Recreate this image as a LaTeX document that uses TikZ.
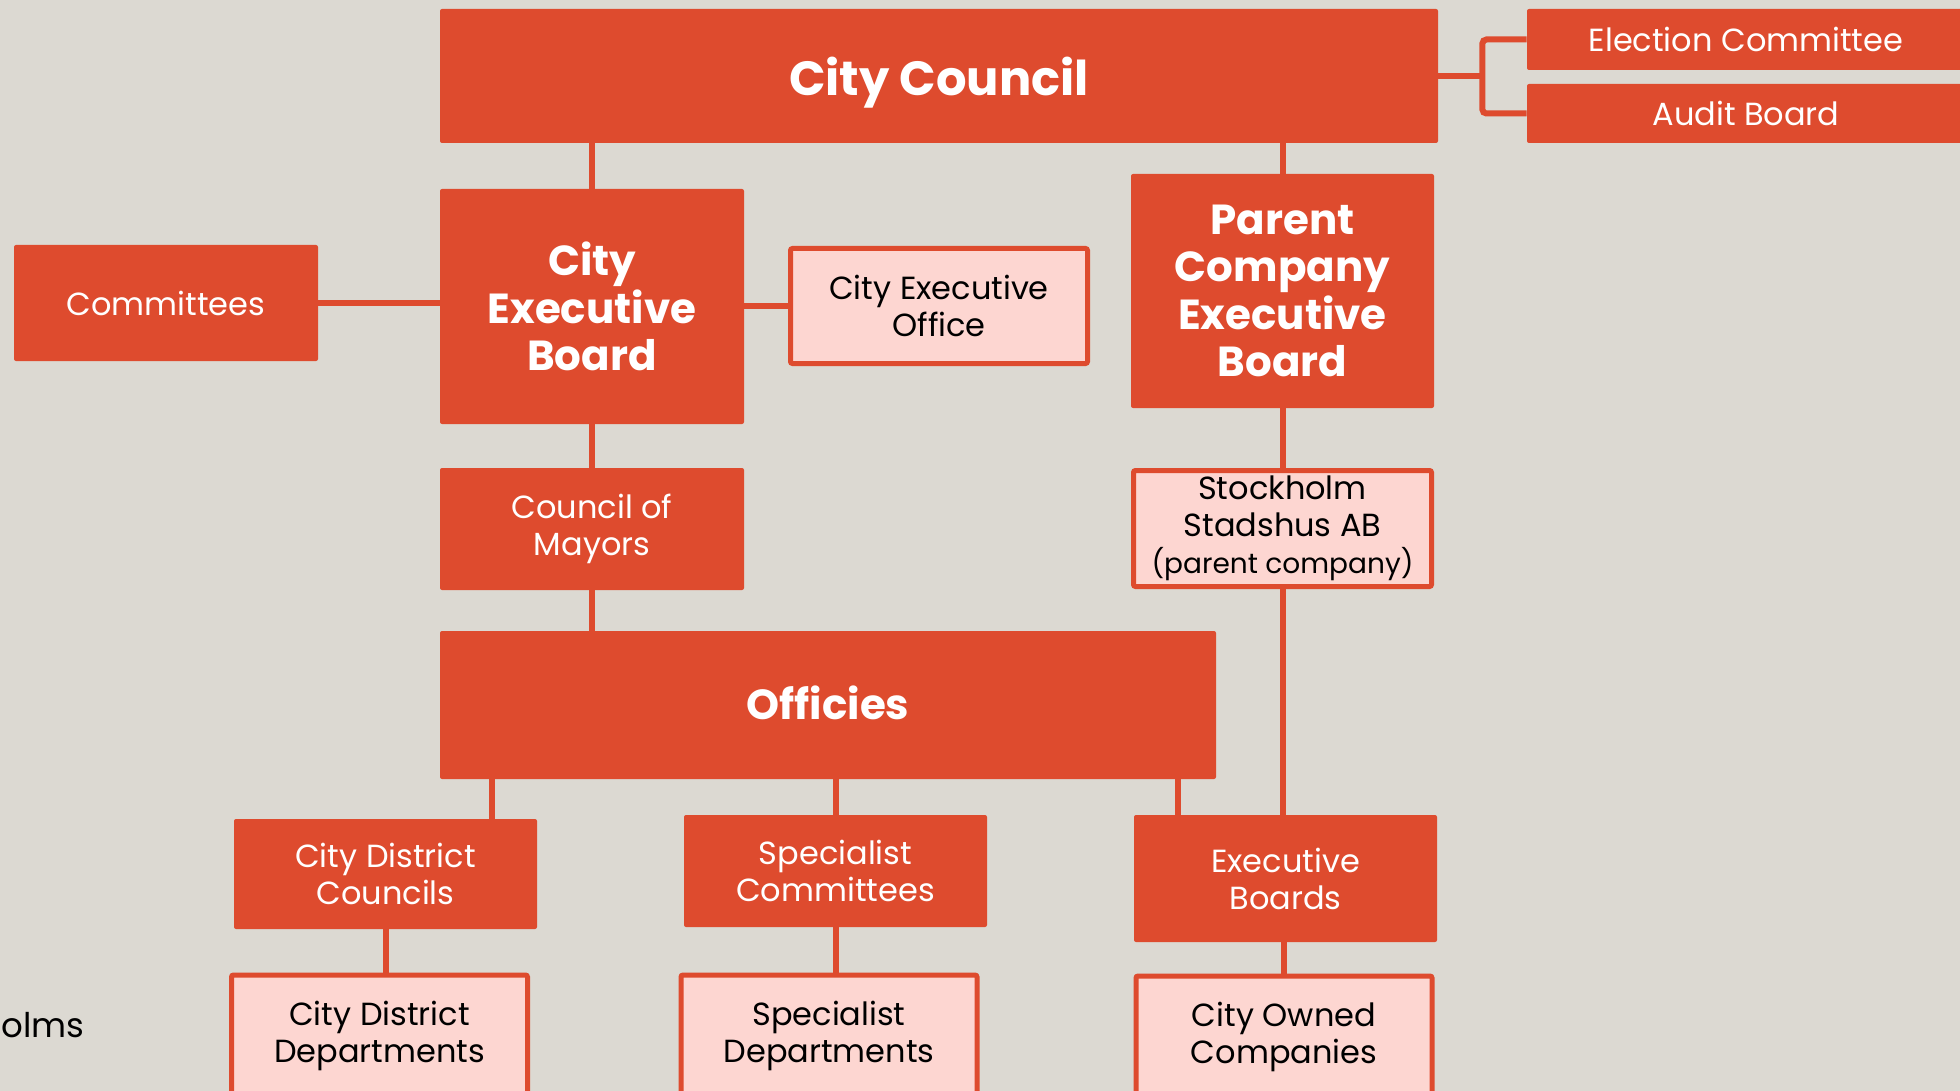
\documentclass[tikz,border=0pt]{standalone}
\usepackage{fontspec}
\setmainfont{Poppins}
\usetikzlibrary{calc}

\definecolor{bgcol}{RGB}{220,217,210}
\definecolor{redbox}{RGB}{222,75,46}
\definecolor{pinkbox}{RGB}{253,214,209}

\tikzset{
  bigbox/.style={fill=redbox, text=white, rounded corners=1pt, align=center, inner sep=0pt},
  lightbox/.style={fill=pinkbox, draw=redbox, line width=2.5pt, text=black, rounded corners=1pt, align=center, inner sep=0pt},
  link/.style={draw=redbox, line width=3pt},
  plain/.style={font=\fontsize{16}{18.5}\selectfont},
  heavy/.style={font=\fontsize{21}{23.75}\selectfont\bfseries},
}

\begin{document}
\begin{tikzpicture}[x=0.5pt,y=-0.5pt]

\useasboundingbox (0,0) rectangle (1960,1091);
\fill [bgcol] (0,0) rectangle (1960,1091);


\node (cc) at (939,76) [bigbox, font=\fontsize{24}{28}\selectfont\bfseries, text depth=0pt, minimum width=499pt, minimum height=67pt] {City Council};

\node (ec) at (1746,39.5) [bigbox, plain, minimum width=219pt, minimum height=30.5pt] {Election Committee};
\node (ab) at (1746,113.5) [bigbox, plain, minimum width=219pt, minimum height=29.5pt] {Audit Board};

\node (ceb) at (592,306.5) [bigbox, heavy, minimum width=152pt, minimum height=117.5pt] {City\\Executive\\Board};
\node (com) at (166,303) [bigbox, plain, minimum width=152pt, minimum height=58pt] {Committees};
\node (ceo) at (939,306) [lightbox, plain, minimum width=148.5pt, minimum height=57.5pt] {City Executive\\Office};

\node (pceb) at (1282.5,291) [bigbox, heavy, minimum width=151.5pt, minimum height=117pt] {Parent\\Company\\Executive\\Board};

\node (mayors) at (592,529) [bigbox, plain, minimum width=152pt, minimum height=61pt] {Council of\\Mayors};
\node (ssab) at (1282.5,528.5) [lightbox, plain, minimum width=149pt, minimum height=58pt] {Stockholm\\Stadshus AB\\{\fontsize{14}{16}\selectfont (parent company)}};

\node (off) at (828,705) [bigbox, heavy, minimum width=388pt, minimum height=74pt] {\raisebox{2pt}{Officies}};

\node (cdc) at (385.5,874) [bigbox, plain, minimum width=151.5pt, minimum height=55pt] {City District\\Councils};
\node (spc) at (835.5,871) [bigbox, plain, minimum width=151.5pt, minimum height=56pt] {Specialist\\Committees};
\node (exb) at (1285.5,878.5) [bigbox, plain, minimum width=151.5pt, minimum height=63.5pt] {Executive\\Boards};

\node (cdd) at (379.5,1036) [lightbox, plain, minimum width=148pt, minimum height=61pt] {City District\\Departments};
\node (sd) at (829,1036) [lightbox, plain, minimum width=148pt, minimum height=61pt] {Specialist\\Departments};
\node (coc) at (1284,1037) [lightbox, plain, minimum width=148pt, minimum height=61pt] {City Owned\\Companies};

\node (olms) at (1,1025) [anchor=west, font=\fontsize{17}{20}\selectfont, text=black, inner sep=0pt] {olms};


\draw [link] (cc.south -| ceb.north) -- (ceb.north);
\draw [link] (cc.south -| pceb.north) -- (pceb.north);

\coordinate (fork) at ($(cc.east)+(44,0)$);
\draw [link] (cc.east) -- (fork);
\draw [link, rounded corners=2pt] (ec.west) -| (fork) |- (ab.west);

\draw [link] (com.east) -- (com.east -| ceb.west);
\draw [link] (ceb.east) -- (ceb.east -| ceo.west);
\draw [link] (ceb.south) -- (mayors.north);
\draw [link] (mayors.south) -- (mayors.south |- off.north);

\draw [link] (pceb.south) -- (ssab.north);
\draw [link] (ssab.south) -- (ssab.south |- exb.north);

\draw [link] ([xshift=53pt]cdc.north) -- ([xshift=53pt]cdc.north |- off.south);
\draw [link] (spc.north) -- (spc.north |- off.south);
\draw [link] ([xshift=-54pt]exb.north) -- ([xshift=-54pt]exb.north |- off.south);

\draw [link] (cdc.south) -- (cdc.south |- cdd.north);
\draw [link] (spc.south) -- (spc.south |- sd.north);
\draw [link] (coc.north |- exb.south) -- (coc.north);

\end{tikzpicture}
\end{document}
